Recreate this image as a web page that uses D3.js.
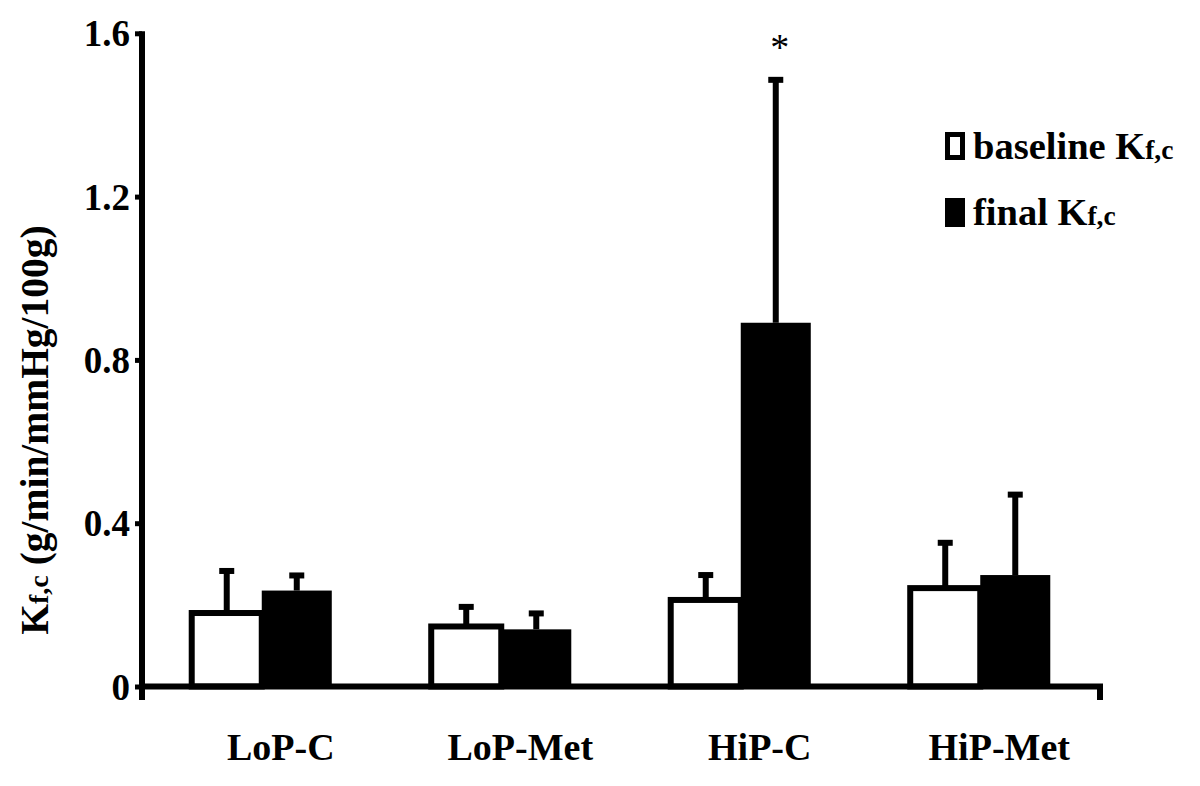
<!DOCTYPE html>
<html>
<head>
<meta charset="utf-8">
<script src="https://cdn.jsdelivr.net/npm/d3@7"></script>
<style>
  html, body { margin: 0; padding: 0; background: #fff; }
  svg { display: block; }
  text { font-family: "Liberation Serif", "Times New Roman", serif; }
</style>
</head>
<body>
<svg id="chart" width="1200" height="786"></svg>
<script>
(function () {
// ---- data ----
const categories = ["LoP-C", "LoP-Met", "HiP-C", "HiP-Met"];
const seriesNames = ["baseline", "final"];
const baselineMean = [0.180, 0.147, 0.212, 0.241];
const baselineErr  = [0.283, 0.195, 0.273, 0.352];   // top of error bar
const finalMean    = [0.235, 0.140, 0.891, 0.273];
const finalErr     = [0.272, 0.179, 1.486, 0.470];   // top of error bar
const yTicks = [0, 0.4, 0.8, 1.2, 1.6];
const yTickLabels = ["0", "0.4", "0.8", "1.2", "1.6"];
const significant = ["HiP-C"];   // asterisk above final bar

// ---- layout ----
const svg = d3.select("#chart");
const mLeft = 142, mRight = 1100, mTop = 33.3, mBottom = 686.5;

const y = d3.scaleLinear().domain([0, 1.6]).range([mBottom, mTop]);
const x0 = d3.scaleBand().domain(categories).range([mLeft, mRight]).padding(0);
const x1 = d3.scaleBand().domain(seriesNames).range([0, x0.bandwidth()]).paddingInner(0).paddingOuter(0.71);

const rows = categories.map((c, i) => ({
  cat: c,
  bars: [
    { s: "baseline", v: baselineMean[i], e: baselineErr[i] },
    { s: "final", v: finalMean[i], e: finalErr[i] }
  ]
}));

const g = svg.append("g");

// bars
const grp = g.selectAll("g.grp").data(rows).join("g")
  .attr("class", "grp")
  .attr("transform", d => `translate(${x0(d.cat)},0)`);

grp.selectAll("rect.bar").data(d => d.bars).join("rect")
  .attr("class", "bar")
  .attr("x", d => x1(d.s))
  .attr("width", x1.bandwidth())
  .attr("y", d => y(d.v))
  .attr("height", d => y(0) - y(d.v))
  .attr("fill", d => d.s === "baseline" ? "#fff" : "#000")
  .attr("stroke", d => d.s === "baseline" ? "#000" : "none")
  .attr("stroke-width", 6);

// error bars
grp.selectAll("line.err").data(d => d.bars).join("line")
  .attr("class", "err")
  .attr("x1", d => x1(d.s) + x1.bandwidth() / 2)
  .attr("x2", d => x1(d.s) + x1.bandwidth() / 2)
  .attr("y1", d => y(d.v))
  .attr("y2", d => y(d.e))
  .attr("stroke", "#000")
  .attr("stroke-width", 6);

grp.selectAll("rect.cap").data(d => d.bars).join("rect")
  .attr("class", "cap")
  .attr("x", d => x1(d.s) + x1.bandwidth() / 2 - 7.5)
  .attr("width", 15)
  .attr("y", d => y(d.e) - 3)
  .attr("height", 6)
  .attr("fill", "#000");

// asterisk
grp.filter(d => significant.includes(d.cat))
  .append("text")
  .attr("x", d => x1("final") + x1.bandwidth() / 2 + 4)
  .attr("y", d => y(d.bars[1].e) - 20)
  .attr("text-anchor", "middle")
  .attr("font-size", 38)
  .text("*");

// y axis
const yAxis = d3.axisLeft(y).tickValues(yTicks).tickFormat((d, i) => yTickLabels[i])
  .tickSize(7).tickPadding(5).tickSizeOuter(0);
const ya = g.append("g").attr("transform", `translate(${mLeft},0)`).call(yAxis);
ya.select(".domain").remove();
ya.selectAll(".tick line").attr("stroke", "#000").attr("stroke-width", 5);
ya.selectAll(".tick text")
  .attr("font-family", "Liberation Serif, serif")
  .attr("font-weight", "bold")
  .attr("font-size", 37)
  .attr("fill", "#000")
  .attr("dy", "0.34em");

// x axis
const xAxis = d3.axisBottom(x0).tickSize(0).tickPadding(0);
const xa = g.append("g").attr("transform", `translate(0,${mBottom})`).call(xAxis);
xa.select(".domain").remove();
xa.selectAll(".tick text")
  .attr("font-family", "Liberation Serif, serif")
  .attr("font-weight", "bold")
  .attr("font-size", 38)
  .attr("fill", "#000")
  .attr("dx", 19)
  .attr("y", 760 - mBottom)
  .attr("dy", 0);

// axis lines
g.append("path")
  .attr("d", `M${mLeft},${y(1.6) - 2}V${mBottom + 13.5}`)
  .attr("stroke", "#000").attr("stroke-width", 6).attr("fill", "none");
g.append("path")
  .attr("d", `M${mLeft - 3},${mBottom}H${mRight}V${mBottom + 13.5}`)
  .attr("stroke", "#000").attr("stroke-width", 6).attr("fill", "none")
  .attr("stroke-linejoin", "miter");

// y title
const yt = svg.append("text")
  .attr("transform", `translate(48,430) rotate(-90)`)
  .attr("text-anchor", "middle")
  .attr("font-weight", "bold")
  .attr("font-size", 39.5)
  .attr("fill", "#000");
yt.append("tspan").text("K");
yt.append("tspan").attr("font-size", 28).text("f,c");
yt.append("tspan").text(" (g/min/mmHg/100g)");

// legend
const legendItems = [
  { s: "baseline", label: "baseline K" },
  { s: "final", label: "final K" }
];
const lg = svg.append("g");
const li = lg.selectAll("g").data(legendItems).join("g")
  .attr("transform", (d, i) => `translate(945,${132 + i * 66})`);
li.append("rect")
  .attr("x", d => d.s === "baseline" ? 2.5 : 0)
  .attr("y", d => d.s === "baseline" ? 2.5 : 0)
  .attr("width", d => d.s === "baseline" ? 15 : 20)
  .attr("height", d => d.s === "baseline" ? 23 : 29)
  .attr("fill", d => d.s === "baseline" ? "#fff" : "#000")
  .attr("stroke", d => d.s === "baseline" ? "#000" : "none")
  .attr("stroke-width", 5);
const lt = li.append("text")
  .attr("x", 28)
  .attr("y", 27)
  .attr("font-weight", "bold")
  .attr("font-size", 38.5)
  .attr("fill", "#000");
lt.append("tspan").text(d => d.label);
lt.append("tspan").attr("font-size", 27.5).text("f,c");
})();
</script>
</body>
</html>
